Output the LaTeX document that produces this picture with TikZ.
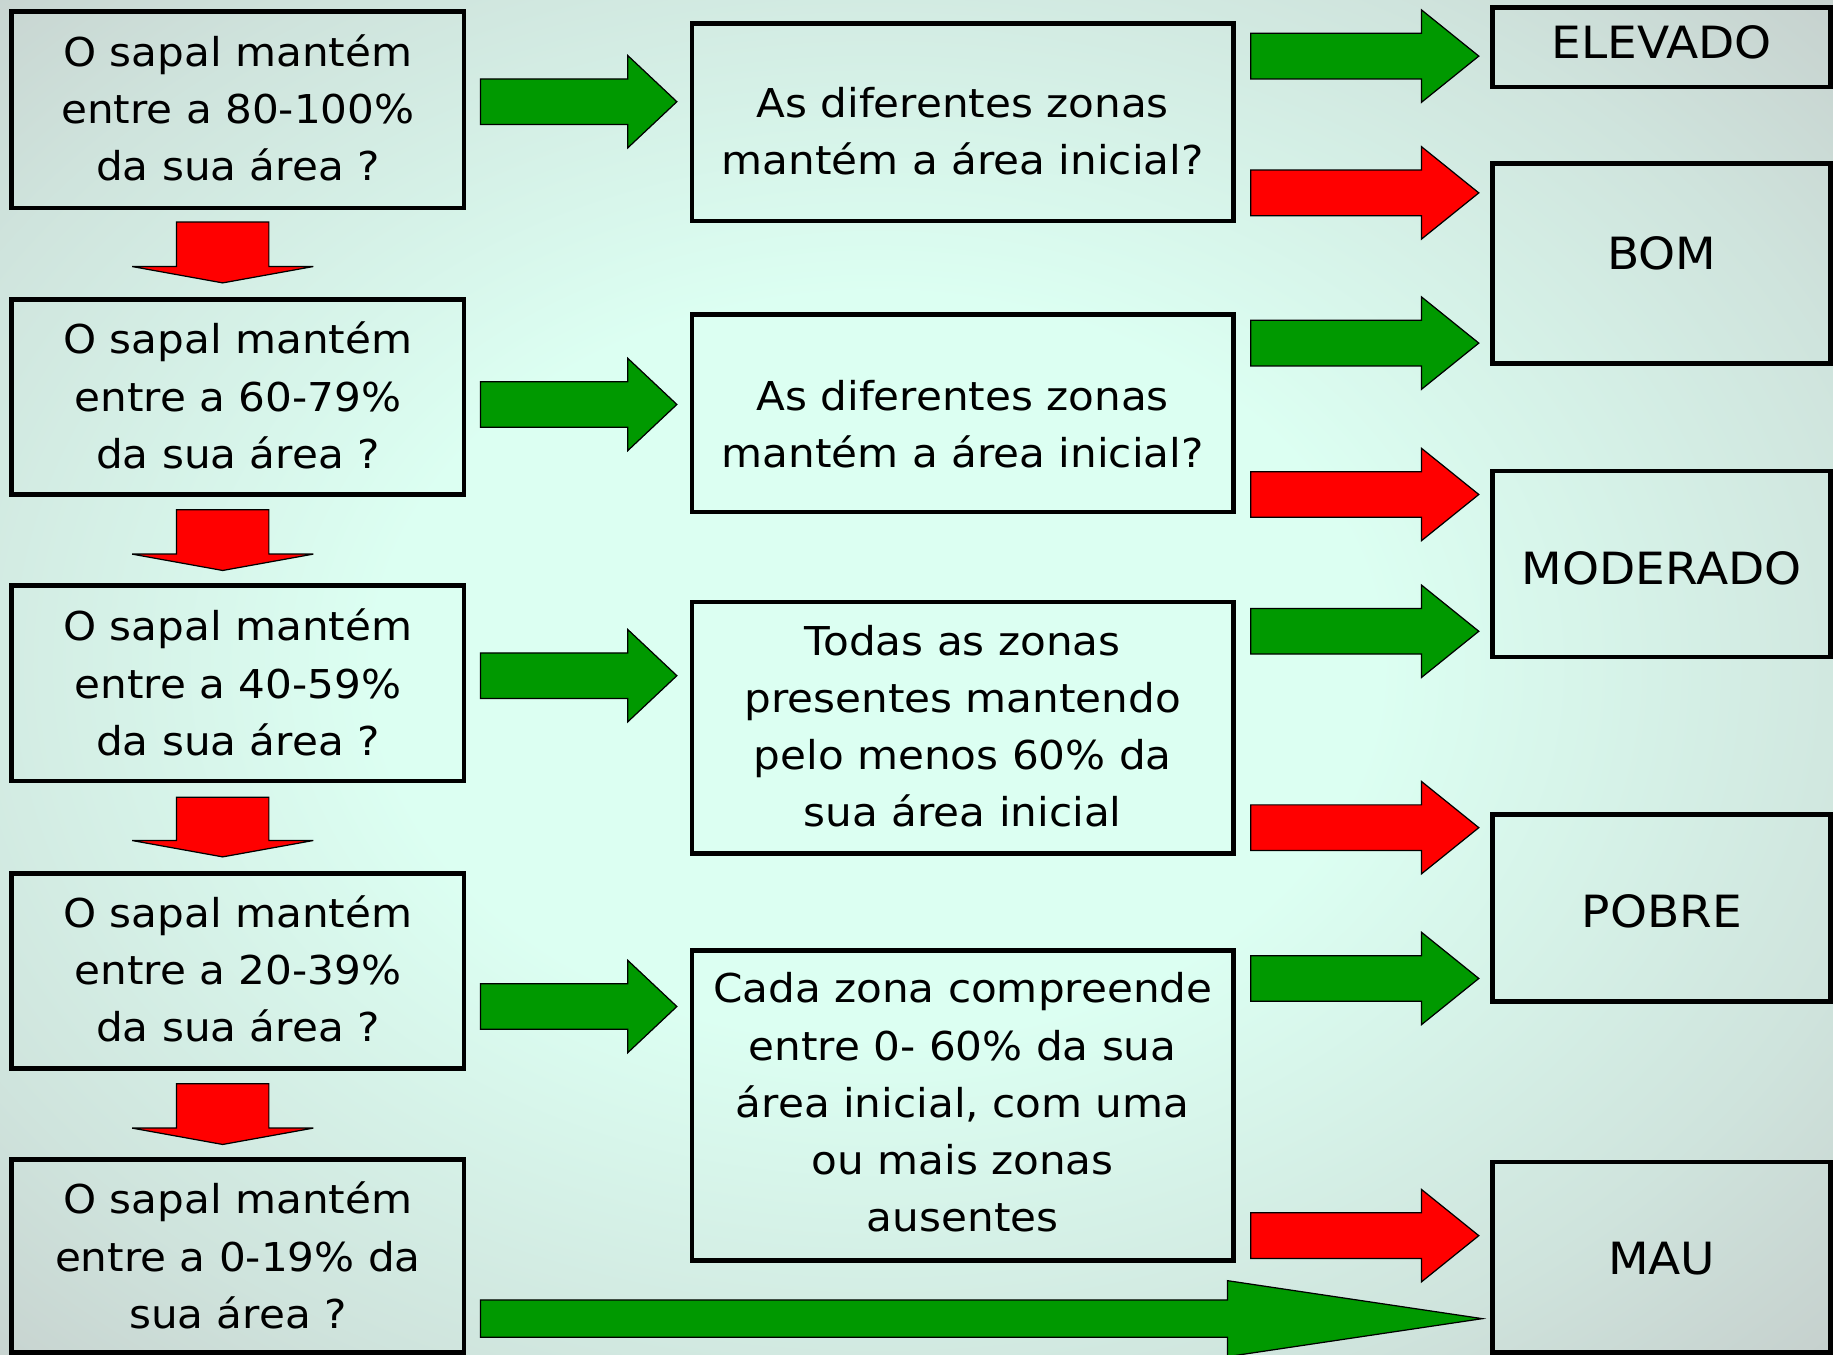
\documentclass[tikz,border=0pt]{standalone}
\usepackage{fontspec}
\setmainfont{DejaVu Sans}[FakeStretch=1.06]
\usetikzlibrary{calc}
\definecolor{mint}{RGB}{220,255,242}
\definecolor{edgegray}{RGB}{194,200,199}
\colorlet{midgray}{edgegray!50!mint}
\definecolor{arrgreen}{RGB}{0,153,0}
\definecolor{arrred}{RGB}{255,0,0}
\pgfdeclareradialshading{bgshade}{\pgfpoint{0bp}{0bp}}{color(0bp)=(mint); color(12bp)=(mint); color(25bp)=(midgray); color(35bp)=(edgegray); color(50bp)=(edgegray)}
% horizontal block arrow: colour, tail, tip, shaft half, head half, head length
\newcommand\blockR[6]{%
  \filldraw[blk,fill=#1] ($(#2)+(0,-#4)$) -- ($(#3)+(-#6,-#4)$) -- ($(#3)+(-#6,-#5)$) -- (#3)
    -- ($(#3)+(-#6,#5)$) -- ($(#3)+(-#6,#4)$) -- ($(#2)+(0,#4)$) -- cycle;}
% downward block arrow: colour, tail (top), tip (bottom), shaft half, head half, head length
\newcommand\blockD[6]{%
  \filldraw[blk,fill=#1] ($(#2)+(-#4,0)$) -- ($(#3)+(-#4,-#6)$) -- ($(#3)+(-#5,-#6)$) -- (#3)
    -- ($(#3)+(#5,-#6)$) -- ($(#3)+(#4,-#6)$) -- ($(#2)+(#4,0)$) -- cycle;}
\begin{document}
\begin{tikzpicture}[x=0.02cm,y=-0.02cm,
  box/.style={draw=black,line width=2.3pt,inner sep=0pt,outer sep=0pt},
  wh/.style 2 args={minimum width=#1*0.02cm,minimum height=#2*0.02cm},
  txt/.style={align=center,inner sep=0pt,font=\fontsize{19.35}{27.88}\selectfont},
  big/.style={align=center,inner sep=0pt,font=\fontsize{21.62}{27.88}\selectfont},
  blk/.style={draw=black,line width=0.6pt,line join=miter}]
\clip (0,0) rectangle (1568,1159);
\shade[shading=bgshade] (-140,-90) rectangle (1640,1230);

% left question boxes
\node[box,wh={387}{168}] (b1) at (203.5,94) {};
\node[box,wh={387}{167}] (b2) at (203.5,339.5) {};
\node[box,wh={387}{167}] (b3) at (203.5,584.5) {};
\node[box,wh={387}{167}] (b4) at (203.5,830.5) {};
\node[box,wh={387}{165}] (b5) at (203.5,1074.5) {};
% middle boxes
\node[box,wh={463}{169}] (m1) at (823.5,104.5) {};
\node[box,wh={463}{169}] (m2) at (823.5,353.5) {};
\node[box,wh={463}{215}] (m3) at (823.5,622.5) {};
\node[box,wh={463}{265}] (m4) at (823.5,945.5) {};
% result boxes
\node[box,wh={289}{68}] (r1) at (1421.5,40.5) {};
\node[box,wh={289}{171}] (r2) at (1421.5,225.5) {};
\node[box,wh={289}{159}] (r3) at (1421.5,482.5) {};
\node[box,wh={289}{160}] (r4) at (1421.5,776.6) {};
\node[box,wh={289}{163}] (r5) at (1421.5,1075.5) {};

% arrow end points
\coordinate (d1s) at (190.5,190); \coordinate (d1e) at (190.5,242);
\coordinate (d2s) at (190.5,436); \coordinate (d2e) at (190.5,488);
\coordinate (d3s) at (190.5,682); \coordinate (d3e) at (190.5,733);
\coordinate (d4s) at (190.5,927); \coordinate (d4e) at (190.5,979);
\coordinate (g1s) at (411,87);  \coordinate (g1e) at (579,87);
\coordinate (g2s) at (411,346); \coordinate (g2e) at (579,346);
\coordinate (g3s) at (411,578); \coordinate (g3e) at (579,578);
\coordinate (g4s) at (411,861); \coordinate (g4e) at (579,861);
\coordinate (ls) at (411,1128); \coordinate (le) at (1268,1128);
\coordinate (q1s) at (1070,48);    \coordinate (q1e) at (1265,48);
\coordinate (q2s) at (1070,165);   \coordinate (q2e) at (1265,165);
\coordinate (q3s) at (1070,293.5); \coordinate (q3e) at (1265,293.5);
\coordinate (q4s) at (1070,423);   \coordinate (q4e) at (1265,423);
\coordinate (q5s) at (1070,540);   \coordinate (q5e) at (1265,540);
\coordinate (q6s) at (1070,708);   \coordinate (q6e) at (1265,708);
\coordinate (q7s) at (1070,837);   \coordinate (q7e) at (1265,837);
\coordinate (q8s) at (1070,1057);  \coordinate (q8e) at (1265,1057);

\blockD{arrred}{d1s}{d1e}{39.5}{77.5}{14}
\blockD{arrred}{d2s}{d2e}{39.5}{77.5}{14}
\blockD{arrred}{d3s}{d3e}{39.5}{77.5}{14}
\blockD{arrred}{d4s}{d4e}{39.5}{77.5}{14}
\blockR{arrgreen}{g1s}{g1e}{19.5}{39.5}{42}
\blockR{arrgreen}{g2s}{g2e}{19.5}{39.5}{42}
\blockR{arrgreen}{g3s}{g3e}{19.5}{39.5}{42}
\blockR{arrgreen}{g4s}{g4e}{19.5}{39.5}{42}
\blockR{arrgreen}{ls}{le}{16}{32.5}{218}
\blockR{arrgreen}{q1s}{q1e}{19.5}{39.5}{49}
\blockR{arrred}{q2s}{q2e}{19.5}{39.5}{49}
\blockR{arrgreen}{q3s}{q3e}{19.5}{39.5}{49}
\blockR{arrred}{q4s}{q4e}{19.5}{39.5}{49}
\blockR{arrgreen}{q5s}{q5e}{19.5}{39.5}{49}
\blockR{arrred}{q6s}{q6e}{19.5}{39.5}{49}
\blockR{arrgreen}{q7s}{q7e}{19.5}{39.5}{49}
\blockR{arrred}{q8s}{q8e}{19.5}{39.5}{49}

% texts
\node[txt] (b1t) at (203.5,95.8) {\strut O sapal mantém\\\strut entre a 80-100\%\\\strut da sua área ?};
\node[txt] (b2t) at (203.5,341.8) {\strut O sapal mantém\\\strut entre a 60-79\%\\\strut da sua área ?};
\node[txt] (b3t) at (203.5,587.5) {\strut O sapal mantém\\\strut entre a 40-59\%\\\strut da sua área ?};
\node[txt] (b4t) at (203.5,832.5) {\strut O sapal mantém\\\strut entre a 20-39\%\\\strut da sua área ?};
\node[txt] (b5t) at (203.5,1077.5) {\strut O sapal mantém\\\strut entre a 0-19\% da\\\strut sua área ?};
\node[txt] (m1t) at (823.5,115.4) {\strut As diferentes zonas\\\strut mantém a área inicial?};
\node[txt] (m2t) at (823.5,365.7) {\strut As diferentes zonas\\\strut mantém a área inicial?};
\node[txt] (m3t) at (823.5,624) {\strut Todas as zonas\\\strut presentes mantendo\\\strut pelo menos 60\% da\\\strut sua área inicial};
\node[txt] (m4t) at (823.5,946) {\strut Cada zona compreende\\\strut entre 0- 60\% da sua\\\strut área inicial, com uma\\\strut ou mais zonas\\\strut ausentes};
\node[big] (r1t) at (1421.5,40.5) {\strut ELEVADO};
\node[big] (r2t) at (1421.5,220.5) {\strut BOM};
\node[big] (r3t) at (1421.5,490.5) {\strut MODERADO};
\node[big] (r4t) at (1421.5,783.5) {\strut POBRE};
\node[big] (r5t) at (1421.5,1080.5) {\strut MAU};
\end{tikzpicture}
\end{document}
